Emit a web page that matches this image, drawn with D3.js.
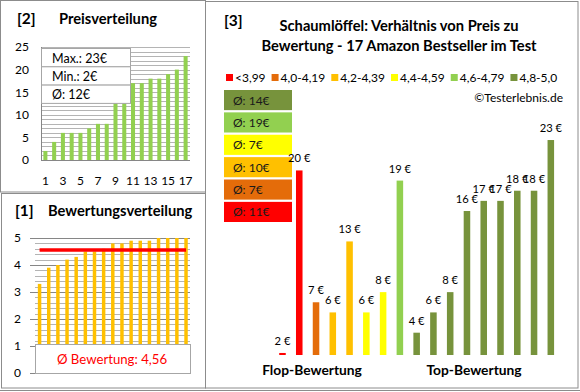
<!DOCTYPE html>
<html>
<head>
<meta charset="utf-8">
<script src="https://cdn.jsdelivr.net/npm/d3@7"></script>
<style>
  body { margin: 0; background: #fff; }
  text { font-family: Lato, "Open Sans", sans-serif; fill: #000; }
</style>
</head>
<body>
<svg id="chart" width="580" height="392"></svg>
<script>
// [2] price distribution (sorted)
const priceRank = d3.range(1, 18);
const pricesSorted = [2, 4, 6, 6, 6, 7, 8, 8, 13, 16, 17, 17, 18, 18, 19, 20, 23];
const priceTicks = [0, 5, 10, 15, 20, 25];
const priceXLabels = [1, 3, 5, 7, 9, 11, 13, 15, 17];
const priceStats = ["Max.: 23€", "Min.: 2€", "Ø: 12€"];

// [1] rating distribution (sorted)
const ratingsSorted = [3.3, 3.9, 4.0, 4.2, 4.3, 4.5, 4.5, 4.6, 4.8, 4.8, 4.9, 4.9, 4.9, 5, 5, 5, 5];
const ratingTicks = [0, 1, 2, 3, 4, 5];
const ratingAvg = 4.56;

// [3] price vs. rating per product
const productPrices = [2, 20, 7, 6, 13, 6, 8, 19, 4, 6, 8, 16, 17, 17, 18, 18, 23];
const productGroup = [0, 0, 1, 2, 2, 3, 3, 4, 5, 5, 5, 5, 5, 5, 5, 5, 5];
const groupNames = ["<3,99", "4,0-4,19", "4,2-4,39", "4,4-4,59", "4,6-4,79", "4,8-5,0"];
const groupColors = ["#ff0000", "#e46c0a", "#ffc000", "#ffff00", "#92d050", "#77933c"];
const groupAvg = [11, 7, 10, 7, 19, 14];

const svg = d3.select("#chart");
const frame = "#8c8c8c";
const titleSize = 14.7;

// panel frames
svg.append("rect").attr("x", 0.5).attr("y", 0.5).attr("width", 205).attr("height", 191.5)
  .attr("fill", "none").attr("stroke", frame);
svg.append("rect").attr("x", 1.5).attr("y", 193.5).attr("width", 204).attr("height", 194.5)
  .attr("fill", "none").attr("stroke", frame);
svg.append("rect").attr("x", 205.5).attr("y", 1.5).attr("width", 372.5).attr("height", 386.5)
  .attr("fill", "none").attr("stroke", frame);
svg.append("line").attr("x1", 0).attr("x2", 580).attr("y1", 390.5).attr("y2", 390.5)
  .attr("stroke", frame);

function gridlines(g, x0, x1, y, values) {
  g.selectAll("line.grid").data(values).join("line")
    .attr("class", "grid")
    .attr("x1", x0).attr("x2", x1)
    .attr("y1", d => Math.round(y(d)) + 0.5).attr("y2", d => Math.round(y(d)) + 0.5)
    .attr("stroke", d => d === 0 ? "#868686" : "#b4b4b4");
}

// ---------- [2] Preisverteilung ----------
{
  const g = svg.append("g");
  g.append("text").attr("x", 17).attr("y", 24).attr("font-size", 15.5).attr("font-weight", "bold").text("[2]");
  g.append("text").attr("x", 59).attr("y", 24).attr("font-size", titleSize).attr("font-weight", "bold").text("Preisverteilung");

  const x = d3.scaleBand().domain(priceRank).range([41, 190]).paddingInner(0.54).paddingOuter(0.27);
  const y = d3.scaleLinear().domain([0, 25]).range([160, 47]);

  gridlines(g, 41, 190, y, d3.range(0, 26));
  g.append("line").attr("x1", 41.5).attr("x2", 41.5).attr("y1", 47).attr("y2", 160).attr("stroke", "#868686");

  g.selectAll("rect.bar").data(pricesSorted).join("rect")
    .attr("class", "bar")
    .attr("x", (d, i) => x(priceRank[i]))
    .attr("width", x.bandwidth())
    .attr("y", d => y(d))
    .attr("height", d => y(0) - y(d))
    .attr("fill", "#92d050");

  const ya = g.append("g").attr("transform", "translate(41,0)")
    .call(d3.axisLeft(y).tickValues(priceTicks).tickSize(0).tickPadding(12));
  ya.select(".domain").remove();
  ya.selectAll("text").attr("font-size", 12).attr("font-family", null);

  const xa = g.append("g").attr("transform", "translate(0,160)")
    .call(d3.axisBottom(x).tickValues(priceXLabels).tickSize(0).tickPadding(16));
  xa.select(".domain").remove();
  xa.selectAll("text").attr("font-size", 12).attr("font-family", null);

  // stats box
  const bx = 41, by = 48.5, bw = 89, rh = 18.3;
  g.selectAll("rect.stat").data(priceStats).join("rect")
    .attr("class", "stat")
    .attr("x", bx + 0.5).attr("y", (d, i) => by + i * rh)
    .attr("width", bw).attr("height", rh)
    .attr("fill", "#fff").attr("stroke", "#a6a6a6");
  g.selectAll("text.stat").data(priceStats).join("text")
    .attr("class", "stat")
    .attr("x", 52).attr("y", (d, i) => by + i * rh + 14)
    .attr("font-size", 12.5)
    .text(d => d);
}

// ---------- [1] Bewertungsverteilung ----------
{
  const g = svg.append("g");
  g.append("text").attr("x", 15).attr("y", 216).attr("font-size", 15.5).attr("font-weight", "bold").text("[1]");
  g.append("text").attr("x", 48).attr("y", 216).attr("font-size", titleSize).attr("font-weight", "bold").text("Bewertungsverteilung");

  const x = d3.scaleBand().domain(priceRank).range([35, 190.6]).paddingInner(0.62).paddingOuter(0.31);
  const y = d3.scaleLinear().domain([0, 5]).range([373, 238]);

  const minor = d3.range(0, 26).map(k => k / 5);
  gridlines(g, 35, 190, y, minor);
  g.selectAll("line.grid").filter(d => Number.isInteger(d)).attr("stroke", "#868686");

  g.selectAll("rect.bar").data(ratingsSorted).join("rect")
    .attr("class", "bar")
    .attr("x", (d, i) => x(priceRank[i]))
    .attr("width", x.bandwidth())
    .attr("y", d => y(d))
    .attr("height", d => y(0) - y(d))
    .attr("fill", "#ffc000");

  const ya = g.append("g").attr("transform", "translate(35,0)")
    .call(d3.axisLeft(y).tickValues(ratingTicks).tickFormat(d3.format("d")).tickSize(5).tickPadding(9));
  ya.select(".domain").remove();
  ya.selectAll("line").attr("stroke", "#868686");
  ya.selectAll("text").attr("font-size", 12).attr("font-family", null);

  const xc = i => x(priceRank[i]) + x.bandwidth() / 2;
  g.append("line")
    .attr("x1", xc(0)).attr("x2", xc(priceRank.length - 1))
    .attr("y1", y(ratingAvg)).attr("y2", y(ratingAvg))
    .attr("stroke", "#ff0000").attr("stroke-width", 3.5);

  g.append("rect").attr("x", 35.5).attr("y", 344.5).attr("width", 155).attr("height", 29)
    .attr("fill", "#fff").attr("stroke", "#a6a6a6");
  g.append("text").attr("x", 112).attr("y", 363.5).attr("text-anchor", "middle")
    .attr("font-size", 13.2).style("fill", "#ff0000")
    .text("Ø Bewertung: " + d3.format(".2f")(ratingAvg).replace(".", ","));
}

// ---------- [3] Preis zu Bewertung ----------
{
  const g = svg.append("g");
  g.append("text").attr("x", 224).attr("y", 26).attr("font-size", 15.5).attr("font-weight", "bold").text("[3]");
  g.append("text").attr("x", 399).attr("y", 30.5).attr("text-anchor", "middle")
    .attr("font-size", titleSize).attr("font-weight", "bold").text("Schaumlöffel: Verhältnis von Preis zu");
  g.append("text").attr("x", 399).attr("y", 50.5).attr("text-anchor", "middle")
    .attr("font-size", titleSize).attr("font-weight", "bold").text("Bewertung - 17 Amazon Bestseller im Test");

  // legend
  let lx = 226;
  groupNames.forEach((name, i) => {
    g.append("rect").attr("x", lx).attr("y", 74).attr("width", 7).attr("height", 7).attr("fill", groupColors[i]);
    const t = g.append("text").attr("x", lx + 9).attr("y", 81.5).attr("font-size", 12).text(name);
    lx += 9 + t.node().getComputedTextLength() + 6;
  });

  g.append("text").attr("x", 563).attr("y", 102).attr("text-anchor", "end").attr("font-size", 12)
    .text("©Testerlebnis.de");

  // group average boxes (best group on top)
  const order = d3.range(groupNames.length).reverse();
  const boxY = d3.scaleBand().domain(order).range([90, 222]).paddingInner(0.1);
  g.selectAll("rect.avg").data(order).join("rect")
    .attr("class", "avg")
    .attr("x", 224).attr("y", d => boxY(d))
    .attr("width", 68).attr("height", boxY.bandwidth())
    .attr("fill", d => groupColors[d]);
  g.selectAll("text.avg").data(order).join("text")
    .attr("class", "avg")
    .attr("x", 233).attr("y", d => boxY(d) + boxY.bandwidth() / 2 + 4.5)
    .attr("font-size", 12).style("fill", "#1a1a1a")
    .text(d => `Ø: ${groupAvg[d]}€`);

  const idx = d3.range(productPrices.length);
  const x = d3.scaleBand().domain(idx).range([274.1, 559.2]).paddingInner(0.61).paddingOuter(0.305);
  const y = d3.scaleLinear().domain([1.8, 25]).range([355, 119.75]);

  g.selectAll("rect.bar").data(idx).join("rect")
    .attr("class", "bar")
    .attr("x", i => x(i))
    .attr("width", x.bandwidth())
    .attr("y", i => y(productPrices[i]))
    .attr("height", i => y(1.8) - y(productPrices[i]))
    .attr("fill", i => groupColors[productGroup[i]]);

  g.selectAll("text.val").data(idx).join("text")
    .attr("class", "val")
    .attr("x", i => x(i) + x.bandwidth() / 2)
    .attr("y", i => y(productPrices[i]) - 8)
    .attr("text-anchor", "middle").attr("font-size", 11.2)
    .text(i => `${productPrices[i]} €`);

  g.append("text").attr("x", 312).attr("y", 375).attr("text-anchor", "middle")
    .attr("font-size", 13.8).attr("font-weight", "bold").text("Flop-Bewertung");
  g.append("text").attr("x", 474).attr("y", 375).attr("text-anchor", "middle")
    .attr("font-size", 13.8).attr("font-weight", "bold").text("Top-Bewertung");
}
</script>
</body>
</html>
